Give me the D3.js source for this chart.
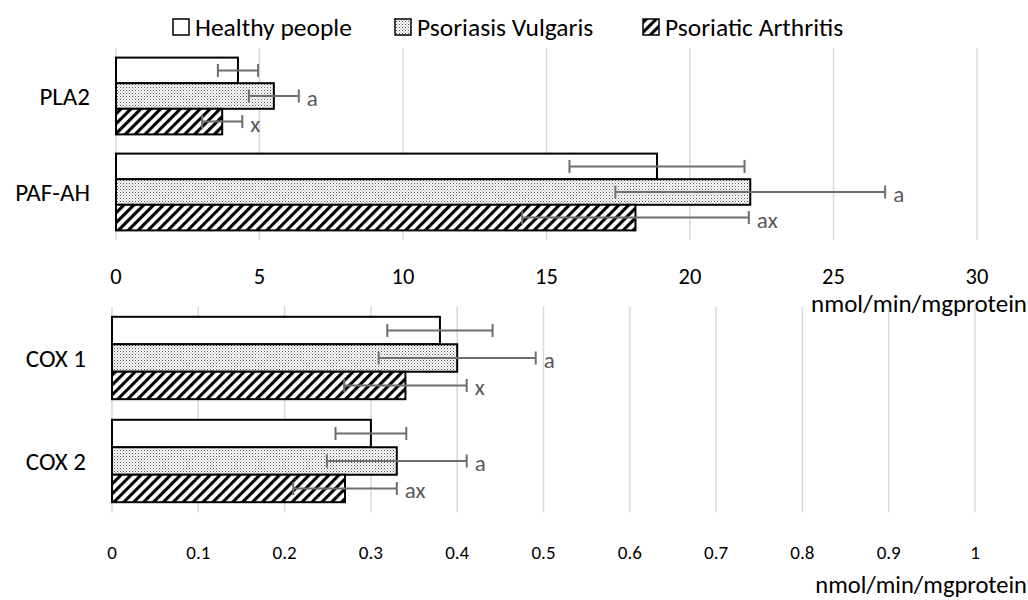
<!DOCTYPE html>
<html>
<head>
<meta charset="utf-8">
<script src="https://cdn.jsdelivr.net/npm/d3@7"></script>
<style>
  body { margin: 0; background: #fff; }
  svg { display: block; font-family: Carlito, Calibri, Lato, "Open Sans", sans-serif; }
  .grid line { stroke: #d9d9d9; stroke-width: 1.5; }
  .bar { stroke: #000; stroke-width: 2; }
  .err { stroke: #6e6e6e; stroke-width: 2; fill: none; }
  .mark { fill: #595959; font-size: 23px; }
  .cat { fill: #000; font-size: 25px; }
</style>
</head>
<body>
<svg id="chart" width="1028" height="600"></svg>
<script>
// series
const seriesNames = ['Healthy people', 'Psoriasis Vulgaris', 'Psoriatic Arthritis'];

// upper panel
const topCategories = ['PLA2', 'PAF-AH'];
const topTicks = [0, 5, 10, 15, 20, 25, 30];
const topHealthy = [4.25, 18.85];
const topHealthyErr = [0.7, 3.05];
const topVulgaris = [5.5, 22.1];
const topVulgarisErr = [0.87, 4.7];
const topArthritis = [3.7, 18.1];
const topArthritisErr = [0.7, 3.95];
const topVulgarisMarks = ['a', 'a'];
const topArthritisMarks = ['x', 'ax'];

// lower panel
const bottomCategories = ['COX 1', 'COX 2'];
const bottomTicks = [0, 0.1, 0.2, 0.3, 0.4, 0.5, 0.6, 0.7, 0.8, 0.9, 1];
const bottomHealthy = [0.38, 0.30];
const bottomHealthyErr = [0.061, 0.041];
const bottomVulgaris = [0.40, 0.33];
const bottomVulgarisErr = [0.091, 0.081];
const bottomArthritis = [0.34, 0.27];
const bottomArthritisErr = [0.071, 0.06];
const bottomVulgarisMarks = ['a', 'a'];
const bottomArthritisMarks = ['x', 'ax'];

const axisTitle = 'nmol/min/mgprotein';

const svg = d3.select('#chart');

// fill patterns
const defs = svg.append('defs');
const dots = defs.append('pattern')
    .attr('id', 'dots')
    .attr('patternUnits', 'userSpaceOnUse')
    .attr('width', 3).attr('height', 3);
dots.append('rect').attr('width', 3).attr('height', 3).attr('fill', '#fff');
dots.append('rect').attr('width', 1).attr('height', 1).attr('fill', '#555');
dots.append('rect').attr('x', 1.5).attr('y', 1.5).attr('width', 1).attr('height', 1).attr('fill', '#888');

const hatch = defs.append('pattern')
    .attr('id', 'hatch')
    .attr('patternUnits', 'userSpaceOnUse')
    .attr('width', 7).attr('height', 7)
    .attr('patternTransform', 'rotate(45)');
hatch.append('rect').attr('width', 7).attr('height', 7).attr('fill', '#fff');
hatch.append('line')
    .attr('x1', 1.5).attr('y1', 0).attr('x2', 1.5).attr('y2', 7)
    .attr('stroke', '#000').attr('stroke-width', 3.2);

const fills = ['#fff', 'url(#dots)', 'url(#hatch)'];

// legend
const legendX = [173, 395, 643];
const legend = svg.append('g').attr('class', 'legend');
seriesNames.forEach((name, i) => {
    legend.append('rect')
        .attr('x', legendX[i]).attr('y', 19)
        .attr('width', 16).attr('height', 16)
        .attr('fill', fills[i])
        .attr('stroke', '#000').attr('stroke-width', 1.5);
    legend.append('text')
        .attr('x', legendX[i] + 22).attr('y', 27)
        .attr('dominant-baseline', 'central')
        .attr('font-size', 25.5)
        .text(name);
});

function drawPanel(opt) {
    const g = svg.append('g');
    const x = d3.scaleLinear().domain(opt.domain).range(opt.xRange);
    const y = d3.scaleBand().domain(opt.categories).range(opt.yRange)
        .paddingInner(0.2).paddingOuter(0.1);
    const sub = d3.scaleBand().domain(seriesNames).range([0, y.bandwidth()]);

    // gridlines
    g.append('g').attr('class', 'grid')
        .selectAll('line')
        .data(opt.ticks)
        .join('line')
        .attr('x1', d => x(d)).attr('x2', d => x(d))
        .attr('y1', opt.yRange[0]).attr('y2', opt.yRange[1]);

    // tick labels
    g.append('g')
        .selectAll('text')
        .data(opt.ticks)
        .join('text')
        .attr('x', d => x(d))
        .attr('y', opt.tickY)
        .attr('text-anchor', 'middle')
        .attr('dominant-baseline', 'central')
        .attr('font-size', opt.tickSize)
        .text(d => d);

    // category labels
    g.append('g')
        .selectAll('text')
        .data(opt.categories)
        .join('text')
        .attr('class', 'cat')
        .attr('x', opt.catX)
        .attr('y', d => y(d) + y.bandwidth() / 2)
        .attr('text-anchor', 'end')
        .attr('dominant-baseline', 'central')
        .text(d => d);

    const rows = [];
    opt.categories.forEach((c, ci) => {
        seriesNames.forEach((s, si) => {
            rows.push({
                cat: c, series: si,
                value: opt.values[si][ci],
                err: opt.errors[si][ci],
                mark: opt.marks[si] ? opt.marks[si][ci] : ''
            });
        });
    });

    const rowY = d => y(d.cat) + sub(seriesNames[d.series]);
    const h = sub.bandwidth();

    g.append('g')
        .selectAll('rect')
        .data(rows)
        .join('rect')
        .attr('class', 'bar')
        .attr('x', x(0))
        .attr('y', d => rowY(d))
        .attr('width', d => x(d.value) - x(0))
        .attr('height', h)
        .attr('fill', d => fills[d.series]);

    const eb = g.append('g').attr('class', 'err');
    rows.forEach(d => {
        const cy = rowY(d) + h / 2;
        const lo = x(d.value - d.err), hi = x(d.value + d.err);
        eb.append('line').attr('x1', lo).attr('x2', hi).attr('y1', cy).attr('y2', cy);
        eb.append('line').attr('x1', lo).attr('x2', lo).attr('y1', cy - 6.5).attr('y2', cy + 6.5);
        eb.append('line').attr('x1', hi).attr('x2', hi).attr('y1', cy - 6.5).attr('y2', cy + 6.5);
        if (d.mark) {
            g.append('text')
                .attr('class', 'mark')
                .attr('x', hi + 8)
                .attr('y', cy + 2)
                .attr('dominant-baseline', 'central')
                .text(d.mark);
        }
    });

    g.append('text')
        .attr('x', opt.titleX)
        .attr('y', opt.titleY)
        .attr('text-anchor', 'end')
        .attr('dominant-baseline', 'central')
        .attr('font-size', opt.titleSize)
        .text(axisTitle);
}

drawPanel({
    categories: topCategories,
    domain: [0, 30],
    ticks: topTicks,
    xRange: [116, 977],
    yRange: [48, 240],
    values: [topHealthy, topVulgaris, topArthritis],
    errors: [topHealthyErr, topVulgarisErr, topArthritisErr],
    marks: [null, topVulgarisMarks, topArthritisMarks],
    tickY: 276, tickSize: 22.5,
    catX: 90,
    titleX: 1027, titleY: 303, titleSize: 25
});

drawPanel({
    categories: bottomCategories,
    domain: [0, 1],
    ticks: bottomTicks,
    xRange: [112, 975],
    yRange: [306.5, 512.5],
    values: [bottomHealthy, bottomVulgaris, bottomArthritis],
    errors: [bottomHealthyErr, bottomVulgarisErr, bottomArthritisErr],
    marks: [null, bottomVulgarisMarks, bottomArthritisMarks],
    tickY: 552, tickSize: 19,
    catX: 86,
    titleX: 1027, titleY: 585, titleSize: 24.5
});
</script>
</body>
</html>
